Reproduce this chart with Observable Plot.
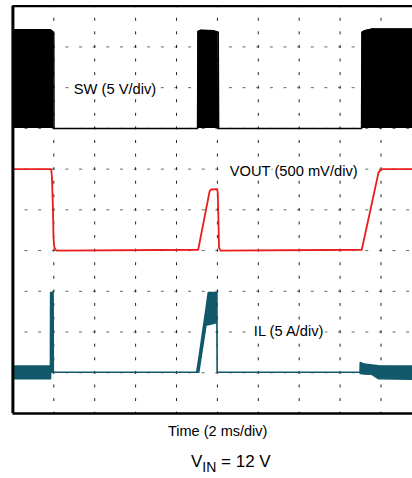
<!DOCTYPE html>
<html><head><meta charset="utf-8">
<script src="https://cdn.jsdelivr.net/npm/d3@7"></script>
<script src="https://cdn.jsdelivr.net/npm/@observablehq/plot@0.6"></script>
<style>
body{margin:0;background:#fff;}
#wrap{position:relative;width:412px;height:478px;overflow:hidden;font-family:"Liberation Sans",Arial,Helvetica,sans-serif;color:#000;}
#chart svg{display:block;}
.cap{position:absolute;white-space:nowrap;}
#time{left:168px;top:423.7px;font-size:14.5px;line-height:14.5px;}
#vin{left:191px;top:452.6px;font-size:17px;line-height:17px;}
#vin .sub{font-size:14px;position:relative;top:5px;}
</style></head><body>
<div id="wrap"><div id="chart"></div>
<div class="cap" id="time">Time (2 ms/div)</div>
<div class="cap" id="vin">V<span class="sub">IN</span> = 12 V</div>
</div>
<script>
// time in divisions (2 ms/div), values in divisions from bottom of screen
const gridTicks = [1,2,3,4,5,6,7,8,9];

// SW trace (5 V/div): upper envelope, baseline at 7 div
const swBase = 7;
const swTime = [0, 0.92, 0.97, 1.0, 1.005, 4.515, 4.525, 4.6, 4.9, 5.02, 5.03, 8.525, 8.535, 8.6, 8.79, 9.77];
const swHigh = [9.42, 9.42, 9.38, 9.33, 7, 7, 9.38, 9.41, 9.40, 9.36, 7, 7, 9.36, 9.40, 9.44, 9.44];

// VOUT trace (500 mV/div)
const voutTime = [0, 0.936, 0.955, 0.98, 0.993, 1.01, 1.04, 1.07, 4.53, 4.81, 4.85, 4.995, 5.01, 5.04, 5.076, 8.53, 8.94, 8.98, 9.04, 9.77];
const voutVal  = [6.0, 6.0, 5.8, 5.0, 4.3, 4.1, 4.02, 4.0, 4.02, 5.46, 5.50, 5.51, 5.4, 4.08, 4.0, 4.02, 5.92, 5.97, 6.0, 6.0];

// IL trace (5 A/div): lower and upper envelope
const ilTime = [0.03, 0.93, 0.935, 0.995, 1.0, 4.506, 4.555, 4.733, 4.79, 5.0, 5.006, 8.5, 8.506, 8.6, 8.79, 8.956, 9.77];
const ilLow  = [0.84, 0.84, 1.0, 1.0, 1.0, 1.0, 1.0, 2.16, 2.17, 2.22, 1.0, 1.0, 0.97, 0.96, 0.95, 0.84, 0.83];
const ilHigh = [1.15, 1.15, 2.96, 2.96, 1.0, 1.0, 1.31, 2.55, 2.96, 2.96, 1.0, 1.0, 1.24, 1.2, 1.18, 1.16, 1.15];

// channel labels
const labelText = ["SW (5 V/div)", "VOUT (500 mV/div)", "IL (5 A/div)"];
const labelTime = [1.489, 5.303, 5.89];
const labelVal  = [7.844, 5.843, 1.903];

const sw = swTime.map((t, i) => ({t, v: swHigh[i]}));
const vout = voutTime.map((t, i) => ({t, v: voutVal[i]}));
const il = ilTime.map((t, i) => ({t, lo: ilLow[i], hi: ilHigh[i]}));
const labels = labelText.map((s, i) => ({s, t: labelTime[i], v: labelVal[i]}));

const teal = "#11596a";
const red = "#ec1c1c";

const chart = Plot.plot({
  width: 412,
  height: 416,
  marginLeft: 12.4,
  marginRight: 0,
  marginTop: 5.7,
  marginBottom: 3,
  x: {domain: [0, 399.6 / 40.9], axis: null},
  y: {domain: [0, 10], axis: null},
  style: {fontFamily: '"Liberation Sans", Arial, Helvetica, sans-serif', background: "white"},
  marks: [
    Plot.gridY(gridTicks, {stroke: "#666", strokeOpacity: 1, strokeWidth: 1, strokeDasharray: "3,10.63", strokeDashoffset: 1.5}),
    Plot.gridX(gridTicks, {stroke: "#222", strokeOpacity: 1, strokeWidth: 1, strokeDasharray: "3,10.58", strokeDashoffset: 1.5}),
    Plot.areaY(sw, {x: "t", y1: swBase, y2: "v", fill: "black"}),
    Plot.lineY(sw, {x: "t", y: "v", stroke: "black", strokeWidth: 1.5}),
    Plot.areaY(il, {x: "t", y1: "lo", y2: "hi", fill: teal, stroke: teal, strokeWidth: 1.6}),
    Plot.lineY(vout, {x: "t", y: "v", stroke: red, strokeWidth: 1.8}),
    Plot.text(labels, {x: "t", y: "v", text: "s", textAnchor: "start", lineAnchor: "bottom", fontSize: 14.7, fill: "black", stroke: "white", strokeWidth: 5}),
    Plot.ruleX([0], {stroke: "black", strokeWidth: 3}),
    Plot.ruleY([0, 10], {stroke: "black", strokeWidth: 2.3})
  ]
});
document.getElementById("chart").appendChild(chart);
</script>
</body></html>
